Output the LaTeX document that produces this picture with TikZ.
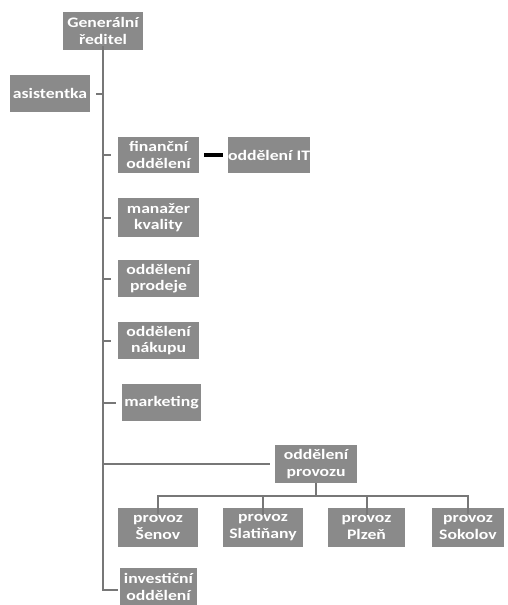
\documentclass[tikz,border=0pt]{standalone}
\usepackage{fontspec}
\setmainfont{Carlito}[FakeStretch=1.22]
\definecolor{boxgray}{HTML}{8A8A8A}
\definecolor{linegray}{HTML}{777777}
\begin{document}
\begin{tikzpicture}[x=1pt,y=-1pt,
  orgbox/.style={fill=boxgray,text=white,inner sep=0pt,align=center,
    font=\bfseries\fontsize{14.5}{16.5}\selectfont,minimum height=37pt},
  conn/.style={draw=linegray,line width=2.6pt},
  tick/.style={draw=linegray,line width=2pt}]
\useasboundingbox (0,0) rectangle (507,605);
\node[orgbox,minimum width=80pt,minimum height=38pt] (gen) at (103,31) {Generální\\ředitel};
\node[orgbox,minimum width=80pt] (asist) at (50,93.5) {asistentka};
\node[orgbox,minimum width=81pt,minimum height=36pt] (fin) at (158.5,155) {finanční\\oddělení};
\node[orgbox,minimum width=82pt,minimum height=36pt] (it) at (269,155) {oddělení IT};
\node[orgbox,minimum width=81pt,minimum height=39pt] (kval) at (158.5,217.5) {manažer\\kvality};
\node[orgbox,minimum width=81pt] (prod) at (158.5,278.5) {oddělení\\prodeje};
\node[orgbox,minimum width=81pt] (nak) at (158.5,340.5) {oddělení\\nákupu};
\node[orgbox,minimum width=79pt] (mark) at (161.5,402.5) {marketing};
\node[orgbox,minimum width=82pt,minimum height=38pt] (provozu) at (316,464) {oddělení\\provozu};
\node[orgbox,minimum width=80pt,minimum height=39pt] (senov) at (158,527.5) {provoz\\Šenov};
\node[orgbox,minimum width=80pt,minimum height=39pt] (slat) at (263,527.5) {provoz\\Slatiňany};
\node[orgbox,minimum width=77pt,minimum height=39pt] (plzen) at (366.5,527.5) {provoz\\Plzeň};
\node[orgbox,minimum width=72pt,minimum height=39pt] (sokol) at (468,527.5) {provoz\\Sokolov};
\node[orgbox,minimum width=77pt,minimum height=38pt] (invest) at (158.5,587) {investiční\\oddělení};
% trunk
\coordinate (tb) at (103,590);
\draw[conn] ([yshift=4pt]gen.south) -- (tb) -- ([xshift=-2pt]invest.west |- tb);
% ticks
\draw[tick,shorten >=6pt] (tb |- asist) -- (asist.east);
\draw[tick,shorten >=7pt] (tb |- fin) -- (fin.west);
\draw[tick,shorten >=7pt] (tb |- kval) -- (kval.west);
\draw[tick,shorten >=7pt] (tb |- prod) -- (prod.west);
\draw[tick,shorten >=7pt] (tb |- nak) -- (nak.west);
\draw[tick,shorten >=6pt] (tb |- mark) -- (mark.west);
\draw[conn,shorten >=5pt] (tb |- provozu) -- (provozu.west);
% black link
\draw[line width=4pt,shorten <=5pt,shorten >=5pt] (fin.east) -- (it.west);
% bus
\coordinate (bus) at (316,496);
\draw[tick] (provozu.south) -- (bus);
\draw[conn] ([yshift=-6pt]senov.north) -- (senov.north |- bus) -- (sokol.north |- bus) -- ([yshift=-6pt]sokol.north);
\draw[tick] (slat.north |- bus) -- ([yshift=-7pt]slat.north);
\draw[tick] (plzen.north |- bus) -- ([yshift=-7pt]plzen.north);
\end{tikzpicture}
\end{document}
